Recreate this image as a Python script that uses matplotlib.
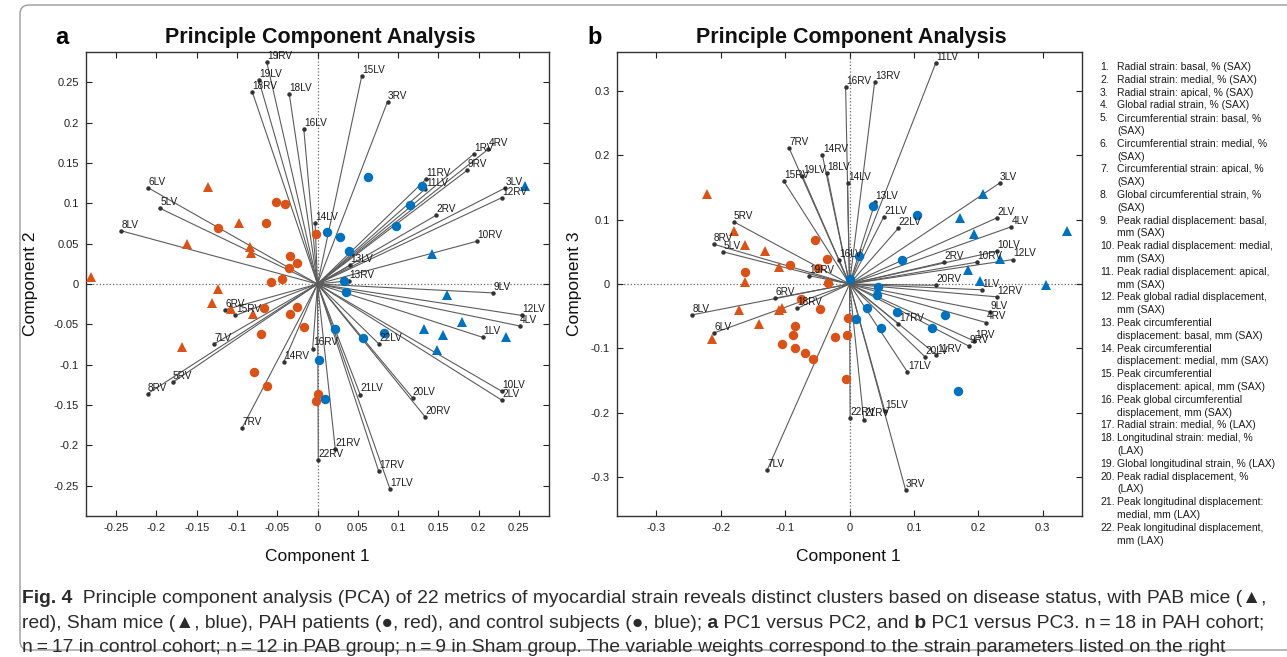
# PCA biplots of myocardial strain metrics (panels a and b)

import matplotlib
matplotlib.use('Agg')
import matplotlib.pyplot as plt
from matplotlib.patches import FancyBboxPatch
from matplotlib.transforms import IdentityTransform

plt.rcParams['font.family'] = ['Liberation Sans', 'DejaVu Sans']

W, H = 1287, 657

# =========================================
# Data

lv_names = [f'{i}LV' for i in range(1, 23)]
rv_names = [f'{i}RV' for i in range(1, 23)]

# loadings (1..22)
pc1_lv = [0.205, 0.229, 0.233, 0.251, -0.196, -0.210, -0.128, -0.244, 0.218, 0.229, 0.134,
          0.254, 0.040, -0.003, 0.055, -0.017, 0.090, -0.035, -0.073, 0.118, 0.053, 0.076]
pc2_lv = [-0.066, -0.144, 0.119, -0.052, 0.094, 0.119, -0.074, 0.066, -0.011, -0.133, 0.118,
          -0.039, 0.023, 0.076, 0.258, 0.192, -0.254, 0.235, 0.253, -0.141, -0.137, -0.074]
pc3_lv = [-0.009, 0.103, 0.157, 0.089, 0.050, -0.076, -0.290, -0.048, -0.043, 0.051, 0.344,
          0.038, 0.128, 0.157, -0.198, 0.037, -0.137, 0.173, 0.168, -0.114, 0.104, 0.087]

pc1_rv = [0.194, 0.147, 0.087, 0.212, -0.180, -0.115, -0.094, -0.211, 0.186, 0.198, 0.135,
          0.229, 0.039, -0.042, -0.102, -0.006, 0.076, -0.081, -0.063, 0.134, 0.022, 0.001]
pc2_rv = [0.161, 0.085, 0.226, 0.167, -0.122, -0.032, -0.179, -0.136, 0.141, 0.053, 0.130,
          0.107, 0.004, -0.097, -0.039, -0.080, -0.232, 0.238, 0.275, -0.165, -0.204, -0.218]
pc3_rv = [-0.089, 0.034, -0.320, -0.060, 0.097, -0.022, 0.212, 0.062, -0.097, 0.034, -0.110,
          -0.020, 0.314, 0.200, 0.160, 0.306, -0.062, -0.038, 0.013, -0.002, -0.211, -0.208]

# scores, panel a (PC1 vs PC2)
pab_a_x = [-0.281, -0.162, -0.084, -0.083, -0.124, -0.131, -0.107, -0.080, -0.168, -0.136, -0.098]
pab_a_y = [0.009, 0.049, 0.046, 0.038, -0.006, -0.024, -0.031, -0.037, -0.078, 0.120, 0.075]
sham_a_x = [0.142, 0.161, 0.179, 0.132, 0.156, 0.234, 0.149, 0.258]
sham_a_y = [0.037, -0.014, -0.047, -0.056, -0.063, -0.066, -0.082, 0.122]
pah_a_x = [-0.124, -0.052, -0.040, -0.064, -0.002, -0.034, -0.025, -0.036, -0.044, -0.058,
           -0.066, -0.026, -0.034, -0.017, -0.070, -0.079, -0.063, 0.001, -0.002]
pah_a_y = [0.069, 0.101, 0.099, 0.075, 0.062, 0.035, 0.026, 0.020, 0.006, 0.003,
           -0.030, -0.029, -0.037, -0.053, -0.062, -0.109, -0.126, -0.136, -0.145]
ctrl_a_x = [0.063, 0.130, 0.115, 0.098, 0.012, 0.028, 0.039, 0.033, 0.035, 0.022, 0.057,
            0.082, 0.002, 0.009]
ctrl_a_y = [0.132, 0.121, 0.098, 0.072, 0.065, 0.058, 0.041, 0.004, -0.010, -0.056, -0.067,
            -0.061, -0.094, -0.142]

# scores, panel b (PC1 vs PC3)
pab_b_x = [-0.221, -0.179, -0.162, -0.131, -0.109, -0.163, -0.172, -0.110, -0.105, -0.141, -0.213]
pab_b_y = [0.140, 0.083, 0.060, 0.052, 0.026, 0.003, -0.041, -0.041, -0.037, -0.062, -0.085]
sham_b_x = [0.208, 0.171, 0.193, 0.337, 0.233, 0.184, 0.202, 0.305]
sham_b_y = [0.140, 0.102, 0.078, 0.083, 0.039, 0.022, 0.004, -0.002]
pah_b_x = [-0.054, -0.093, -0.035, -0.049, -0.163, -0.034, -0.076, -0.046, -0.084, -0.088,
           -0.105, -0.085, -0.069, -0.057, -0.023, -0.004, -0.003, -0.005]
pah_b_y = [0.068, 0.029, 0.039, 0.025, 0.019, 0.002, -0.023, -0.039, -0.065, -0.080,
           -0.093, -0.099, -0.108, -0.117, -0.082, -0.079, -0.053, -0.148]
ctrl_b_x = [0.036, 0.105, 0.001, 0.015, 0.081, 0.044, 0.043, 0.027, 0.073, 0.010, 0.049,
            0.149, 0.128, 0.168]
ctrl_b_y = [0.121, 0.107, 0.008, 0.043, 0.037, -0.004, -0.017, -0.037, -0.043, -0.054, -0.069,
            -0.049, -0.068, -0.166]

ticks_a = [-0.25, -0.2, -0.15, -0.1, -0.05, 0, 0.05, 0.1, 0.15, 0.2, 0.25]
ticks_b = [-0.3, -0.2, -0.1, 0, 0.1, 0.2, 0.3]

metric_lines = [
    ('1.', 'Radial strain: basal, % (SAX)'),
    ('2.', 'Radial strain: medial, % (SAX)'),
    ('3.', 'Radial strain: apical, % (SAX)'),
    ('4.', 'Global radial strain, % (SAX)'),
    ('5.', 'Circumferential strain: basal, %'), ('', '(SAX)'),
    ('6.', 'Circumferential strain: medial, %'), ('', '(SAX)'),
    ('7.', 'Circumferential strain: apical, %'), ('', '(SAX)'),
    ('8.', 'Global circumferential strain, %'), ('', '(SAX)'),
    ('9.', 'Peak radial displacement: basal,'), ('', 'mm (SAX)'),
    ('10.', 'Peak radial displacement: medial,'), ('', 'mm (SAX)'),
    ('11.', 'Peak radial displacement: apical,'), ('', 'mm (SAX)'),
    ('12.', 'Peak global radial displacement,'), ('', 'mm (SAX)'),
    ('13.', 'Peak circumferential'), ('', 'displacement: basal, mm (SAX)'),
    ('14.', 'Peak circumferential'), ('', 'displacement: medial, mm (SAX)'),
    ('15.', 'Peak circumferential'), ('', 'displacement: apical, mm (SAX)'),
    ('16.', 'Peak global circumferential'), ('', 'displacement, mm (SAX)'),
    ('17.', 'Radial strain: medial, % (LAX)'),
    ('18.', 'Longitudinal strain: medial, %'), ('', '(LAX)'),
    ('19.', 'Global longitudinal strain, % (LAX)'),
    ('20.', 'Peak radial displacement, %'), ('', '(LAX)'),
    ('21.', 'Peak longitudinal displacement:'), ('', 'medial, mm (LAX)'),
    ('22.', 'Peak longitudinal displacement,'), ('', 'mm (LAX)'),
]

caption = [
    [('Fig. 4', 'bold'),
     ('  Principle component analysis (PCA) of 22 metrics of myocardial strain reveals distinct '
      'clusters based on disease status, with PAB mice (\u25B2,', 'normal')],
    [('red), Sham mice (\u25B2, blue), PAH patients (\u25CF, red), and control subjects '
      '(\u25CF, blue);', 'normal'),
     (' a', 'bold'), (' PC1 versus PC2, and', 'normal'), (' b', 'bold'),
     (' PC1 versus PC3. n\u2009=\u200918 in PAH cohort;', 'normal')],
    [('n\u2009=\u200917 in control cohort; n\u2009=\u200912 in PAB group; n\u2009=\u20099 in Sham group. '
      'The variable weights correspond to the strain parameters listed on the right', 'normal')],
]

ORANGE = '#D95319'
BLUE = '#0072BD'

# =========================================
# Figure

fig = plt.figure(figsize=(W / 100, H / 100), dpi=100)


def px_axes(left, top, right, bottom):
    return fig.add_axes([left / W, 1 - bottom / H, (right - left) / W, (bottom - top) / H])


def biplot(ax, xs, ys, names):
    for x, y, n in zip(xs, ys, names):
        ax.plot([0, x], [0, y], color='#5c5c5c', lw=0.8, zorder=2)
        ax.plot(x, y, 'o', color='#333333', ms=2.2, zorder=3)
        ax.annotate(n, (x, y), xytext=(0.3, 0.8), textcoords='offset points',
                    fontsize=7.2, ha='left', va='bottom', color='#1a1a1a', zorder=6)


def setup(ax, lim, ticks):
    ax.set_xlim(-lim, lim)
    ax.set_ylim(-lim, lim)
    ax.axhline(0, color='#666666', ls=':', lw=0.9, zorder=1)
    ax.axvline(0, color='#666666', ls=':', lw=0.9, zorder=1)
    labels = [f'{t:g}' for t in ticks]
    ax.set_xticks(ticks)
    ax.set_xticklabels(labels)
    ax.set_yticks(ticks)
    ax.set_yticklabels(labels)
    ax.tick_params(direction='in', top=True, right=True, length=4, width=0.8,
                   labelsize=8, colors='#222222', pad=5)
    for sp in ax.spines.values():
        sp.set_linewidth(1.0)
        sp.set_color('#333333')


def groups(ax, pab, sham, pah, ctrl):
    ax.plot(pab[0], pab[1], '^', color=ORANGE, ms=7, mew=0, ls='none', zorder=4)
    ax.plot(sham[0], sham[1], '^', color=BLUE, ms=7, mew=0, ls='none', zorder=4)
    ax.plot(pah[0], pah[1], 'o', color=ORANGE, ms=6.8, mew=0, ls='none', zorder=4)
    ax.plot(ctrl[0], ctrl[1], 'o', color=BLUE, ms=6.8, mew=0, ls='none', zorder=4)


# Panel a
ax_a = px_axes(86, 52, 549, 516)
setup(ax_a, 0.2875, ticks_a)
biplot(ax_a, pc1_lv + pc1_rv, pc2_lv + pc2_rv, lv_names + rv_names)
groups(ax_a, (pab_a_x, pab_a_y), (sham_a_x, sham_a_y), (pah_a_x, pah_a_y), (ctrl_a_x, ctrl_a_y))

# Panel b
ax_b = px_axes(617, 52, 1082, 516)
setup(ax_b, 0.361, ticks_b)
biplot(ax_b, pc1_lv + pc1_rv, pc3_lv + pc3_rv, lv_names + rv_names)
groups(ax_b, (pab_b_x, pab_b_y), (sham_b_x, sham_b_y), (pah_b_x, pah_b_y), (ctrl_b_x, ctrl_b_y))


def ftext(x, y, s, **kw):
    return fig.text(x / W, 1 - y / H, s, **kw)


# titles, panel letters, axis labels
for cx, letter, ylab, ylx in [(320, 'a', 'Component 2', 30), (851, 'b', 'Component 3', 575)]:
    ftext(cx, 38, 'Principle Component Analysis', fontsize=15.5, fontweight='bold',
          ha='center', va='center', color='#111111')
    ftext(cx - 3, 556, 'Component 1', fontsize=12.5, ha='center', va='center', color='#111111')
    ftext(ylx, 284, ylab, fontsize=12.5, ha='center', va='center', rotation=90, color='#111111')
ftext(62, 38, 'a', fontsize=17, fontweight='bold', ha='center', va='center')
ftext(595, 38, 'b', fontsize=17, fontweight='bold', ha='center', va='center')

# list of metrics on the right
for i, (num, txt) in enumerate(metric_lines):
    y = 67 + i * 12.8
    if num:
        ftext(1100, y, num, fontsize=7.5, va='center', color='#1a1a1a')
    ftext(1117, y, txt, fontsize=7.5, va='center', color='#1a1a1a')

# caption, fitted to the text width of the reference
cap_family = ['Liberation Sans Narrow', 'Liberation Sans', 'DejaVu Sans']
renderer = fig.canvas.get_renderer()


def draw_runs(runs, x0, y, size):
    x = x0
    arts = []
    for s, w in runs:
        t = ftext(x, y, s, fontsize=size, fontweight=w, family=cap_family,
                  va='baseline', color='#2b2b2b')
        bb = t.get_window_extent(renderer)
        x = bb.x1
        arts.append(t)
    return x, arts


end, probe = draw_runs(caption[0], 22, 603, 10)
for t in probe:
    t.remove()
cap_size = 10 * (1268 - 22) / (end - 22)
for runs, y in zip(caption, [603, 628, 652]):
    draw_runs(runs, 22, y, cap_size)

# rounded frame
frame = FancyBboxPatch((20, H - 650), 1320, 645, boxstyle='round,pad=0,rounding_size=9',
                       transform=IdentityTransform(), fill=False, ec='#9a9a9a', lw=1.0)
fig.add_artist(frame)

fig.savefig('out.png', dpi=100)
